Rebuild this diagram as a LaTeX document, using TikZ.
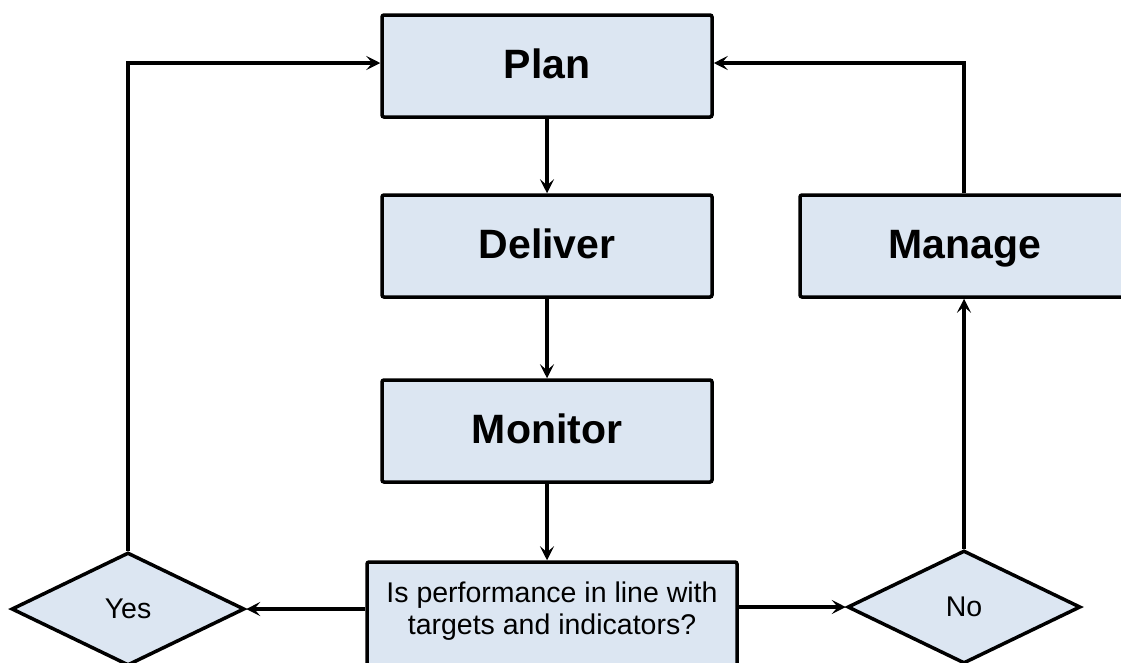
\documentclass[tikz,border=0pt]{standalone}
\usepackage{fontspec}
\setmainfont{Liberation Sans}
\usetikzlibrary{shapes.geometric,arrows.meta}
\definecolor{boxfill}{HTML}{DCE6F2}
\tikzset{
  x=1pt, y=-1pt,
  stepbox/.style={draw=black, line width=3.5pt, fill=boxfill, rounded corners=2pt,
    minimum width=330pt, minimum height=102pt, inner sep=0pt,
    text height=30pt, text depth=6pt,
    font=\fontsize{41}{48}\selectfont\bfseries},
  decbox/.style={draw=black, line width=3.5pt, fill=boxfill, rounded corners=2pt,
    minimum width=370pt, minimum height=120pt, inner sep=0pt},
  choice/.style={draw=black, line width=3.5pt, fill=boxfill, shape=diamond,
    minimum width=233pt, minimum height=113pt, inner sep=0pt,
    font=\fontsize{28.5}{32}\selectfont},
  conn/.style={line width=3.5pt, -{Stealth[length=14pt,width=14pt,inset=6pt]}}
}
\begin{document}
\begin{tikzpicture}
\useasboundingbox (0,0) rectangle (1121,662);
\clip (0,0) rectangle (1121,662);
\node[stepbox] (plan) at (547,66) {Plan};
\node[stepbox] (deliver) at (547,246) {Deliver};
\node[stepbox] (monitor) at (547,431) {Monitor};
\node[stepbox] (manage) at (965,246) {Manage};
\node[decbox] (dec) at (552,622) {};
\node[align=center, font=\fontsize{28.5}{32}\selectfont] (dectext) at (552,611) {Is performance in line with\\targets and indicators?};
\node[choice] (yes) at (128,609) {Yes};
\node[choice] (no) at (964,607) {No};
\coordinate (ytop) at (128,63);
\coordinate (ntop) at (964,63);
\draw[conn] (plan) -- (deliver);
\draw[conn] (deliver) -- (monitor);
\draw[conn] (monitor.south) -- (monitor.south |- dec.north);
\draw[conn] (dec.west |- yes.east) -- (yes.east);
\draw[conn] (dec.east |- no.west) -- (no.west);
\draw[conn] (no.north) -- (manage.south -| no.north);
\draw[conn, line join=miter] (yes.north) -- (ytop) -- (ytop -| plan.west);
\draw[conn, line join=miter] (manage.north -| ntop) -- (ntop) -- (ntop -| plan.east);
\end{tikzpicture}
\end{document}
